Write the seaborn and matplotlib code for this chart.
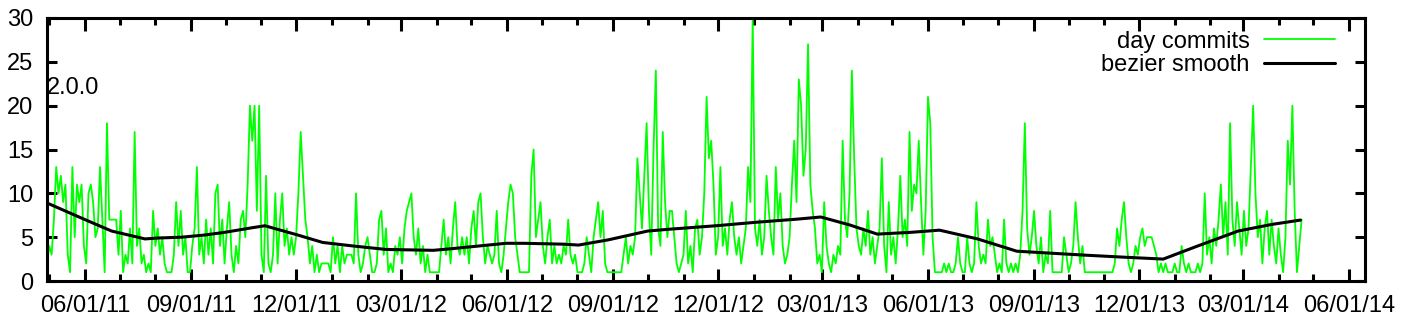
import pandas as pd
import matplotlib
matplotlib.use("Agg")
import matplotlib.pyplot as plt
import matplotlib.dates as mdates
import seaborn as sns

# ----------------------
# data (commits per day, one value every 2 days)
# ----------------------
first_day = "2011-04-29"
commits_q2_2011 = [2, 4, 3, 7, 13, 10, 12, 9, 11, 3, 1, 13, 5, 11, 9, 11, 4, 2, 10, 11,
                   9, 5, 6, 13, 7, 1, 18, 7, 7, 7, 7, 3, 8, 1, 3, 2, 6, 2, 17, 4,
                   6, 2, 3, 1, 2, 1, 8, 4, 6, 3, 5, 2, 1, 1, 1, 3, 9, 4, 8, 3,
                   5, 1, 1, 4, 6, 13, 3, 5, 2, 7, 3, 6, 2, 10, 11, 4, 7, 2, 6, 9,
                   3, 1, 4, 2, 7, 8, 5, 11, 20, 16]
commits_q4_2011 = [20, 8, 20, 3, 1, 12, 2, 1, 3, 10, 2, 7, 10, 4, 6, 3, 5, 3, 5, 10,
                   17, 12, 7, 5, 2, 4, 1, 3, 1, 2, 2, 2, 2, 1, 5, 2, 4, 1, 4, 2,
                   3, 3, 3, 2, 10, 3, 1, 2, 4, 5, 3, 1, 1, 2, 7, 8, 3, 6, 1, 2,
                   1, 4, 3, 5, 2, 6, 8, 9, 10, 5, 3, 6, 2, 4, 1, 3, 1, 1, 1, 1,
                   1, 4, 7, 3, 5, 2, 6, 9, 4, 3, 5]
commits_q2_2012 = [3, 5, 2, 6, 8, 4, 9, 10, 5, 2, 4, 3, 2, 3, 8, 2, 1, 3, 6, 9,
                   11, 10, 5, 3, 1, 1, 1, 1, 1, 12, 15, 5, 7, 9, 4, 2, 5, 7, 2, 4,
                   2, 3, 2, 4, 3, 7, 3, 2, 3, 1, 1, 1, 2, 5, 3, 1, 5, 7, 9, 5,
                   8, 2, 1, 1, 1, 1, 1, 1, 1, 3, 5, 2, 4, 3, 5, 14, 10, 6, 12, 18,
                   8, 3, 15, 24, 6, 4, 17, 9, 5, 8]
commits_q4_2012 = [8, 5, 2, 1, 2, 3, 8, 2, 4, 1, 6, 7, 3, 5, 10, 21, 14, 16, 11, 3,
                   5, 13, 4, 6, 3, 7, 9, 5, 3, 5, 2, 4, 6, 13, 9, 30, 6, 4, 7, 3,
                   5, 12, 8, 5, 3, 13, 7, 10, 4, 2, 3, 5, 11, 16, 9, 23, 20, 12, 15, 27,
                   11, 8, 6, 2, 3, 1, 9, 4, 2, 1, 3, 2, 4, 3, 16, 7, 5, 10, 24, 14,
                   6, 4, 3, 6, 4, 8, 3, 5, 2, 4]
commits_q2_2013 = [6, 14, 4, 1, 9, 3, 5, 2, 6, 12, 5, 7, 4, 17, 8, 11, 10, 16, 9, 3,
                   8, 21, 18, 5, 1, 1, 1, 1, 2, 1, 2, 1, 1, 2, 5, 2, 1, 1, 5, 2,
                   1, 2, 9, 4, 2, 3, 2, 7, 4, 5, 3, 1, 2, 1, 7, 2, 1, 2, 1, 2,
                   1, 3, 8, 18, 6, 3, 5, 8, 4, 2, 5, 1, 3, 2, 8, 1, 1, 1, 1, 1,
                   5, 3, 1, 2, 4, 9, 5, 2, 4, 1]
commits_q4_2013 = [1, 1, 1, 1, 1, 1, 1, 1, 1, 1, 1, 1, 2, 6, 4, 7, 9, 5, 2, 1,
                   2, 4, 3, 5, 6, 4, 5, 5, 5, 4, 3, 1, 2, 1, 2, 1, 1, 1, 2, 1,
                   1, 4, 2, 1, 2, 1, 1, 1, 2, 1, 2, 10, 3, 5, 2, 6, 4, 7, 11, 5,
                   9, 3, 18, 7, 4, 9, 6, 3, 8, 4, 6, 13, 20, 10, 5, 7, 2, 6, 8, 3,
                   7, 4, 2, 6, 3, 1, 5, 16, 11, 20, 8, 1, 4, 7]

smooth_dates = ["2011-04-29", "2011-06-01", "2011-06-24", "2011-07-23", "2011-08-03",
                "2011-08-24", "2011-09-13", "2011-09-30", "2011-10-25", "2011-11-04",
                "2011-12-01", "2011-12-24", "2012-01-19", "2012-02-17", "2012-03-29",
                "2012-04-15", "2012-05-31", "2012-06-16", "2012-07-20", "2012-08-02",
                "2012-08-28", "2012-10-01", "2012-10-19", "2012-11-29", "2013-01-03",
                "2013-02-07", "2013-02-28", "2013-03-25", "2013-04-18", "2013-05-17",
                "2013-06-11", "2013-07-14", "2013-08-17", "2013-09-12", "2013-10-15",
                "2013-11-13", "2013-12-22", "2014-01-19", "2014-02-25", "2014-03-26",
                "2014-04-20"]
smooth_values = [8.9, 7.0, 5.7, 4.8, 4.9, 5.0, 5.25, 5.55, 6.1, 6.3,
                 5.3, 4.4, 4.0, 3.6, 3.5, 3.7, 4.3, 4.3, 4.2, 4.1,
                 4.7, 5.7, 5.9, 6.3, 6.7, 7.05, 7.3, 6.4, 5.35, 5.55,
                 5.8, 4.8, 3.4, 3.2, 2.95, 2.75, 2.5, 3.9, 5.7, 6.45,
                 6.95]

version_label = "2.0.0"
version_y = 22

# ----------------------
# style
# ----------------------
sns.set_style("white")
plt.rcParams['font.family'] = ['Liberation Sans', 'DejaVu Sans']
plt.rcParams['font.size'] = 17
for k in ['text.color', 'axes.labelcolor', 'xtick.color', 'ytick.color']:
    plt.rcParams[k] = 'black'

commits = (commits_q2_2011 + commits_q4_2011 + commits_q2_2012
           + commits_q4_2012 + commits_q2_2013 + commits_q4_2013)
day_df = pd.DataFrame({
    "date": pd.date_range(first_day, periods=len(commits), freq="2D"),
    "commits": commits,
})
smooth_df = pd.DataFrame({"date": pd.to_datetime(smooth_dates), "commits": smooth_values})

fig = plt.figure(figsize=(14.08, 3.27), dpi=100)
ax = fig.add_axes([47 / 1408, 1 - 281 / 327, (1365 - 47) / 1408, (281 - 18) / 327])

sns.lineplot(data=day_df, x="date", y="commits", ax=ax, color="#00ff00",
             linewidth=1.3, label="day commits")
sns.lineplot(data=smooth_df, x="date", y="commits", ax=ax, color="black",
             linewidth=2.2, label="bezier smooth")

ax.text(pd.Timestamp(first_day), version_y, version_label, ha="left", va="center",
        fontsize=17)

ax.set_xlim(pd.Timestamp("2011-04-29"), pd.Timestamp("2014-06-15"))
ax.set_ylim(0, 30)
ax.set_yticks(range(0, 31, 5))
ax.xaxis.set_major_locator(mdates.MonthLocator(bymonth=[3, 6, 9, 12]))
ax.xaxis.set_minor_locator(mdates.MonthLocator())
ax.xaxis.set_major_formatter(mdates.DateFormatter("%m/%d/%y"))
ax.set_xlabel("")
ax.set_ylabel("")

for s in ax.spines.values():
    s.set_linewidth(2.2)
    s.set_color("black")
ax.tick_params(axis="x", which="major", direction="in", length=9, width=2.2,
               top=True, bottom=True, pad=10, labelsize=17)
ax.tick_params(axis="x", which="minor", direction="in", length=5, width=2.2,
               top=True, bottom=True)
ax.tick_params(axis="y", which="major", direction="in", length=7, width=2.2,
               left=True, right=True, pad=10, labelsize=17)

leg = ax.legend(loc="upper right", bbox_to_anchor=(0.977, 0.952), frameon=False,
                markerfirst=False, handlelength=3.0, handletextpad=0.6,
                labelspacing=0.05, borderpad=0, borderaxespad=0, fontsize=17)
for line in leg.get_lines():
    line.set_linewidth(2.2 if line.get_color() == "black" else 1.3)

fig.savefig("out.png", dpi=100)
